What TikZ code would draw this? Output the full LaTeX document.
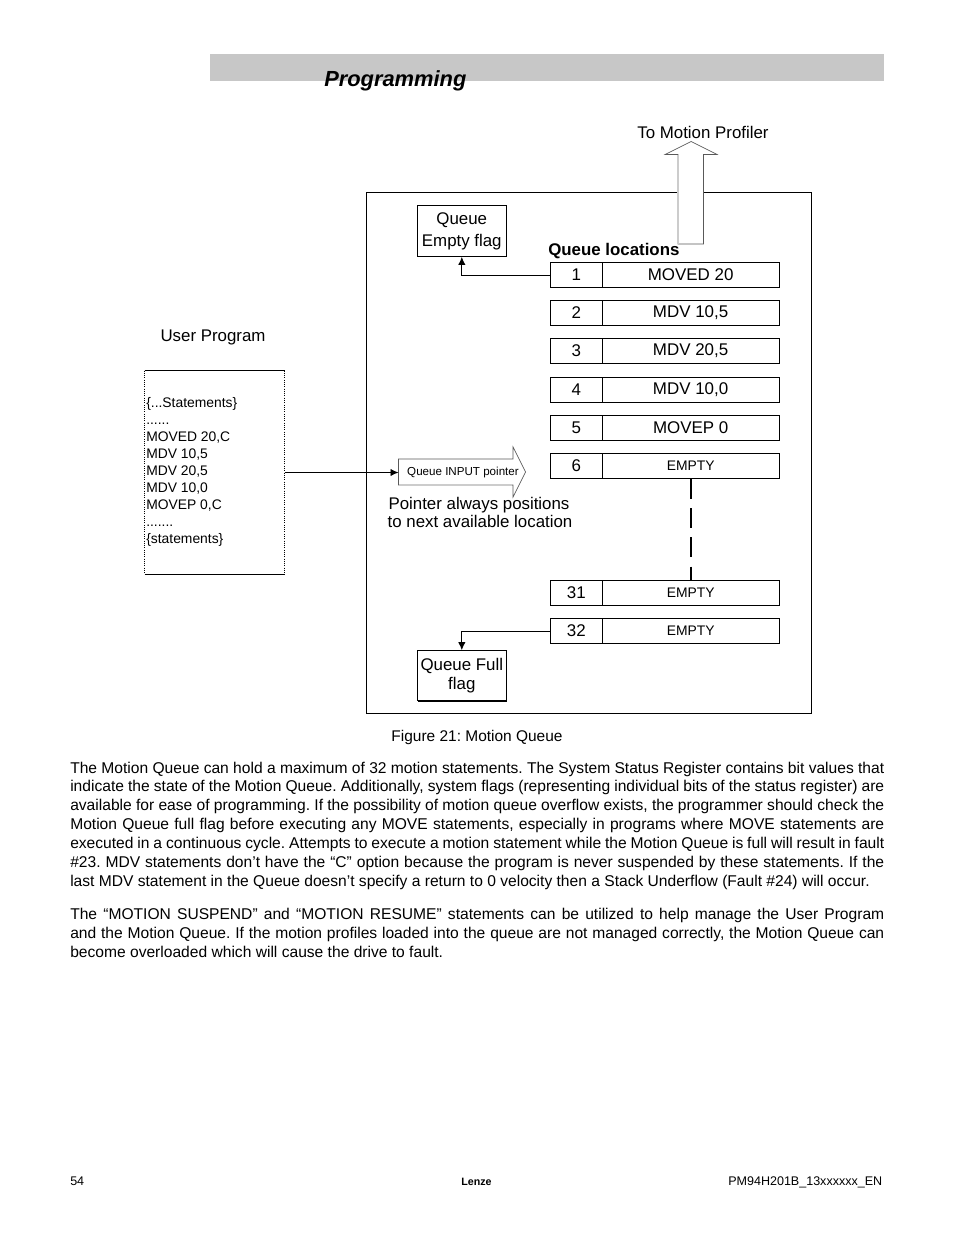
\documentclass[tikz,border=0pt]{standalone}
\usepackage{fontspec}
\setmainfont{Liberation Sans}
\usetikzlibrary{arrows.meta}
\newcommand{\fs}[1]{\fontsize{#1}{#1}\selectfont}
\tikzset{x=0.75pt,y=-0.75pt,
 flagbox/.style={draw=black,line width=0.75pt,fill=white,inner sep=0pt,outer sep=0pt,align=center},
 numcell/.style={draw=black,line width=0.7pt,minimum width=39pt,minimum height=19pt,inner sep=0pt,outer sep=0pt,font=\fs{12.7},anchor=west},
 valcell/.style={draw=black,line width=0.7pt,minimum width=132.5pt,minimum height=19pt,inner sep=0pt,outer sep=0pt,font=\fs{12.7},anchor=west},
 emptycell/.style={valcell,font=\fs{10.4}},
 txt/.style={inner sep=0pt,font=\fs{12.65},align=center},
 para/.style={inner sep=0pt,font=\fontsize{11.7}{14.12}\selectfont\frenchspacing,anchor=north west,text width=610.5pt,align=justify},
 small/.style={inner sep=0pt,font=\fs{10.4},anchor=base west},
 conn/.style={draw=black,line width=0.7pt,-{Latex[length=6pt,width=5.5pt]}},
 hollow/.style={line width=0.5pt,draw=black!65,fill=white}}
\begin{document}
\begin{tikzpicture}
\useasboundingbox (0,0) rectangle (954,1235);
\fill[white] (0,0) rectangle (954,1235);
\fill[black!22] (210,54) rectangle (884,81);
\node[inner sep=0pt,anchor=base west,font=\fontsize{16.4}{16.4}\selectfont\bfseries\itshape] (title) at (324,86) {Programming};
\node[txt,anchor=base] (profiler) at (703,138) {To Motion Profiler};
% frame
\draw[line width=0.7pt] (366.5,192.5) rectangle (811.5,713.5);
% up arrow
\draw[hollow] (678,244) -- (678,154.5) -- (665,154.5) -- (691,141.5) -- (717,154.5) -- (703.5,154.5) -- (703.5,244) -- cycle;
\draw[line width=1pt,draw=black!20] (678,244) -- (678,155);
% Flag boxes
\node[flagbox,minimum width=66.5pt,minimum height=38.5pt,font=\fontsize{12.65}{16.3}\selectfont] (qe) at (461.8,231.2) {Queue\\Empty flag};
\node[flagbox,minimum width=66.5pt,minimum height=38pt,font=\fontsize{12.65}{14.8}\selectfont] (qf) at (461.8,675.5) {Queue Full\\flag};
\draw[line width=1pt] (417.5,701) -- (506.5,701);
\node[inner sep=0pt,anchor=base west,font=\fontsize{12.65}{12.65}\selectfont\bfseries] (ql) at (548,255) {Queue locations};
% queue rows
\node[numcell] (n1) at (550.3,275) {1};  \node[valcell] (v1) at (602.3,275) {MOVED 20};
\node[numcell] (n2) at (550.3,313) {2};  \node[valcell] (v2) at (602.3,313) {MDV 10,5};
\node[numcell] (n3) at (550.3,351) {3};  \node[valcell] (v3) at (602.3,351) {MDV 20,5};
\node[numcell] (n4) at (550.3,390) {4};  \node[valcell] (v4) at (602.3,390) {MDV 10,0};
\node[numcell] (n5) at (550.3,428) {5};  \node[valcell] (v5) at (602.3,428) {MOVEP 0};
\node[numcell] (n6) at (550.3,466) {6};  \node[emptycell] (v6) at (602.3,466) {EMPTY};
\node[numcell] (n31) at (550.3,593) {31}; \node[emptycell] (v31) at (602.3,593) {EMPTY};
\node[numcell] (n32) at (550.3,631) {32}; \node[emptycell] (v32) at (602.3,631) {EMPTY};
\draw[line width=1.5pt,dash pattern=on 15pt off 7pt] (v6.south) -- (v31.north);
% flag connectors
\draw[conn] (n1.west) -| (qe.south);
\draw[conn] (n32.west) -| (qf.north);
% user program
\node[txt,anchor=base] (up) at (213,341) {User Program};
\draw[line width=0.7pt,densely dotted] (144.5,370.5) -- (144.5,574);
\draw[line width=0.7pt,densely dotted] (284.5,370.5) -- (284.5,574);
\draw[line width=0.7pt] (144.5,370.5) -- (284.5,370.5) (144.5,574) -- (284.5,574);
\coordinate (upr) at (284.5,472.5);
\foreach \y/\t in {407.5/{\{...Statements\}},424.5/{......},441.5/{MOVED 20,C},458.5/{MDV 10,5},475.5/{MDV 20,5},492.5/{MDV 10,0},509.5/{MOVEP 0,C},526.5/{.......},543.5/{\{statements\}}}
  \node[small] at (146,\y) {\t};
% pointer arrow
\draw[hollow] (398.5,459) -- (513,459) -- (513,447) -- (525.5,472) -- (513,497) -- (513,485) -- (398.5,485) -- cycle;
\draw[line width=1pt,draw=black!20] (399,485) -- (512,485);
\coordinate (ptr) at (398.5,472.5);
\draw[conn] (upr) -- (ptr);
\node[inner sep=0pt,font=\fs{8.7},anchor=base] (qi) at (463,475) {Queue INPUT pointer};
\node[txt,anchor=base] at (479,509) {Pointer always positions};
\node[txt,anchor=base] at (480,527.5) {to next available location};
\node[inner sep=0pt,font=\fontsize{11.6}{11.6}\selectfont\frenchspacing,anchor=base] (cap) at (477,741) {Figure 21: Motion Queue};
% paragraphs
\node[para] at (70,761.5) {The Motion Queue can hold a maximum of 32 motion statements. The System Status Register contains bit values that\linebreak
indicate the state of the Motion Queue. Additionally, system flags (representing individual bits of the status register) are\linebreak
available for ease of programming. If the possibility of motion queue overflow exists, the programmer should check the\linebreak
Motion Queue full flag before executing any MOVE statements, especially in programs where MOVE statements are\linebreak
executed in a continuous cycle. Attempts to execute a motion statement while the Motion Queue is full will result in fault\linebreak
\#23. MDV statements don’t have the “C” option because the program is never suspended by these statements. If the\linebreak
last MDV statement in the Queue doesn’t specify a return to 0 velocity then a Stack Underflow (Fault \#24) will occur.};
\node[para] at (70,908) {The “MOTION SUSPEND” and “MOTION RESUME” statements can be utilized to help manage the User Program\linebreak
and the Motion Queue. If the motion profiles loaded into the queue are not managed correctly, the Motion Queue can\linebreak
become overloaded which will cause the drive to fault.};
% footer
\node[inner sep=0pt,anchor=base west,font=\fs{9.4}] (pg) at (70,1185) {54};
\node[inner sep=0pt,anchor=base,font=\fontsize{8}{8}\selectfont\bfseries] (lz) at (476.5,1185) {Lenze};
\node[inner sep=0pt,anchor=base east,font=\fs{9.4}] (doc) at (882.5,1185) {PM94H201B\_13xxxxxx\_EN};
\end{tikzpicture}
\end{document}
